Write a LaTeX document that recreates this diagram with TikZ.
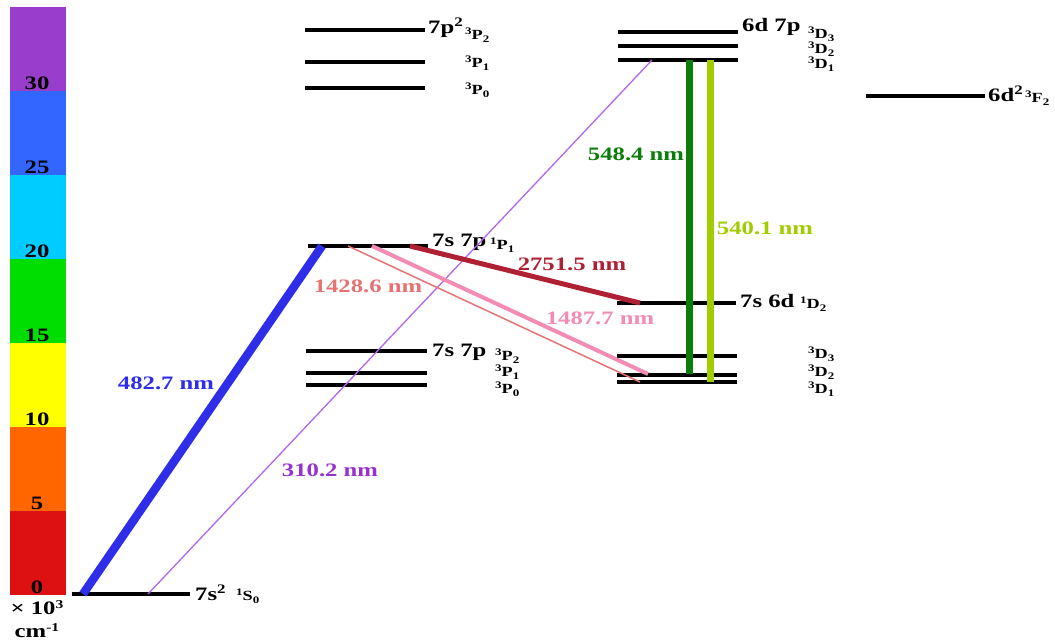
\documentclass[tikz,border=0pt]{standalone}
\usepackage{fontspec}
\setmainfont[FakeStretch=1.3]{Liberation Serif}
\definecolor{barRed}{RGB}{221,17,17}
\definecolor{barOrange}{RGB}{255,102,0}
\definecolor{barYellow}{RGB}{255,255,0}
\definecolor{barGreen}{RGB}{0,221,0}
\definecolor{barCyan}{RGB}{0,204,255}
\definecolor{barBlue}{RGB}{51,102,255}
\definecolor{barPurple}{RGB}{153,61,204}
\definecolor{lineBlue}{RGB}{46,46,232}
\definecolor{linePurple}{RGB}{179,102,235}
\definecolor{textPurple}{RGB}{150,50,205}
\definecolor{lineCrimson}{RGB}{176,32,52}
\definecolor{lineSalmon}{RGB}{229,115,115}
\definecolor{linePink}{RGB}{242,140,180}
\definecolor{lineDarkGreen}{RGB}{11,125,11}
\definecolor{lineLightGreen}{RGB}{160,204,0}
\newcommand{\term}[3]{\raisebox{5pt}{\fontsize{10}{10}\selectfont #1}#2\raisebox{-3.5pt}{\fontsize{10}{10}\selectfont #3}}
\newcommand{\sqr}{\raisebox{7pt}{\fontsize{13}{13}\selectfont 2}}

\begin{document}
\begin{tikzpicture}[
  x=1pt,
  y=-1pt,
  level/.style={line width=3.5pt},
  cfgLabel/.style={font=\bfseries\fontsize{19}{19}\selectfont, inner sep=0pt, anchor=west},
  termLabel/.style={font=\bfseries\fontsize{14}{14}\selectfont, inner sep=0pt, anchor=west},
  waveLabel/.style={font=\bfseries\fontsize{19}{19}\selectfont, inner sep=0pt},
  barLabel/.style={font=\bfseries\fontsize{19}{19}\selectfont, inner sep=0pt}
]
  \useasboundingbox (0,0) rectangle (1055,644);

  % energy scale
  \foreach \i/\c/\v in {0/barRed/0,1/barOrange/5,2/barYellow/10,3/barGreen/15,4/barCyan/20,5/barBlue/25,6/barPurple/30} {
    \path[fill=\c] (10,{595-84*\i}) rectangle (66,{511-84*\i});
    \node[barLabel] (tick\v) at (37,{587-84*\i}) {\v};
  }
  \node[barLabel] (unitA) at (37,608) {× 10\raisebox{6pt}{\fontsize{12}{12}\selectfont 3}};
  \node[barLabel] (unitB) at (37,631) {cm\raisebox{6pt}{\fontsize{12}{12}\selectfont -1}};

  % ground state
  \draw[level] (72,594) coordinate (gsL) -- (190,594) coordinate (gsR);
  \node[cfgLabel] (gsCfg) at (195,593) {7s\sqr};
  \node[termLabel] (gsTerm) at (236,596) {\term{1}{S}{0}};

  % 7p2 3P
  \draw[level] (305,30) coordinate (ppTwoL) -- (425,30);
  \draw[level] (305,62) -- (425,62);
  \draw[level] (305,88) -- (425,88);
  \node[cfgLabel] (ppCfg) at (428,28) {7p\sqr};
  \node[termLabel] (ppTwo) at (465,35) {\term{3}{P}{2}};
  \node[termLabel] (ppOne) at (465,63) {\term{3}{P}{1}};
  \node[termLabel] (ppZero) at (465,90) {\term{3}{P}{0}};

  % 7s7p 1P1
  \draw[level] (308,246) coordinate (spSingL) -- (428,246) coordinate (spSingR);
  \node[cfgLabel] (spSingCfg) at (432,242) {7s 7p};
  \node[termLabel] (spSingTerm) at (490,245) {\term{1}{P}{1}};

  % 7s7p 3P
  \draw[level] (306,351) -- (427,351);
  \draw[level] (306,373) -- (427,373);
  \draw[level] (306,385) -- (427,385);
  \node[cfgLabel] (spTripCfg) at (432,352) {7s 7p};
  \node[termLabel] (spTwo) at (495,356) {\term{3}{P}{2}};
  \node[termLabel] (spOne) at (495,372) {\term{3}{P}{1}};
  \node[termLabel] (spZero) at (495,389) {\term{3}{P}{0}};

  % 6d7p 3D
  \draw[level] (618,32) -- (738,32);
  \draw[level] (618,46) -- (738,46);
  \draw[level] (618,60) coordinate (dpOneL) -- (738,60);
  \node[cfgLabel] (dpCfg) at (742,27) {6d 7p};
  \node[termLabel] (dpThree) at (808,34) {\term{3}{D}{3}};
  \node[termLabel] (dpTwo) at (808,49) {\term{3}{D}{2}};
  \node[termLabel] (dpOne) at (808,64) {\term{3}{D}{1}};

  % 6d2 3F2
  \draw[level] (866,96) -- (985,96);
  \node[cfgLabel] (ddCfg) at (988,94) {6d\sqr};
  \node[termLabel] (ddTerm) at (1025,98) {\term{3}{F}{2}};

  % 7s6d 1D2
  \draw[level] (617,303) -- (736,303);
  \node[cfgLabel] (sdSingCfg) at (740,301) {7s 6d};
  \node[termLabel] (sdSingTerm) at (800,304) {\term{1}{D}{2}};

  % 7s6d 3D
  \draw[level] (617,356) -- (737,356);
  \draw[level] (617,375) -- (737,375);
  \draw[level] (617,382) -- (737,382);
  \node[termLabel] (sdThree) at (808,354) {\term{3}{D}{3}};
  \node[termLabel] (sdTwo) at (808,372) {\term{3}{D}{2}};
  \node[termLabel] (sdOne) at (808,389) {\term{3}{D}{1}};

  % transition end points
  \coordinate (gsBlue) at (83,594);
  \coordinate (gsPurple) at (148,594);
  \coordinate (spBlue) at (322,246);
  \coordinate (spSalmon) at (348,246);
  \coordinate (spPink) at (372,246);
  \coordinate (spCrimson) at (410,246);
  \coordinate (dpPurple) at (652,60);
  \coordinate (sdCrimson) at (640,303);
  \coordinate (sdPink) at (648,374);
  \coordinate (sdSalmon) at (640,382);
  \coordinate (dpDark) at (689,60);
  \coordinate (sdDark) at (689,374);
  \coordinate (dpLight) at (710,60);
  \coordinate (sdLight) at (710,382);

  % transitions
  \draw[lineBlue, line width=8.5pt] (gsBlue) -- (spBlue);
  \draw[linePurple, line width=1.3pt] (gsPurple) -- (dpPurple);
  \draw[lineSalmon, line width=1.5pt] (spSalmon) -- (sdSalmon);
  \draw[linePink, line width=4pt] (spPink) -- (sdPink);
  \draw[lineCrimson, line width=5pt] (spCrimson) -- (sdCrimson);
  \draw[lineDarkGreen, line width=7pt] (dpDark) -- (sdDark);
  \draw[lineLightGreen, line width=7pt] (dpLight) -- (sdLight);

  \node[waveLabel, text=lineBlue] (wlBlue) at (166,383) {482.7 nm};
  \node[waveLabel, text=textPurple] (wlPurple) at (330,470) {310.2 nm};
  \node[waveLabel, text=lineCrimson] (wlCrimson) at (572,264) {2751.5 nm};
  \node[waveLabel, text=lineSalmon] (wlSalmon) at (368,286) {1428.6 nm};
  \node[waveLabel, text=linePink] (wlPink) at (600,318) {1487.7 nm};
  \node[waveLabel, text=lineDarkGreen] (wlDark) at (636,154) {548.4 nm};
  \node[waveLabel, text=lineLightGreen] (wlLight) at (765,228) {540.1 nm};
\end{tikzpicture}
\end{document}
